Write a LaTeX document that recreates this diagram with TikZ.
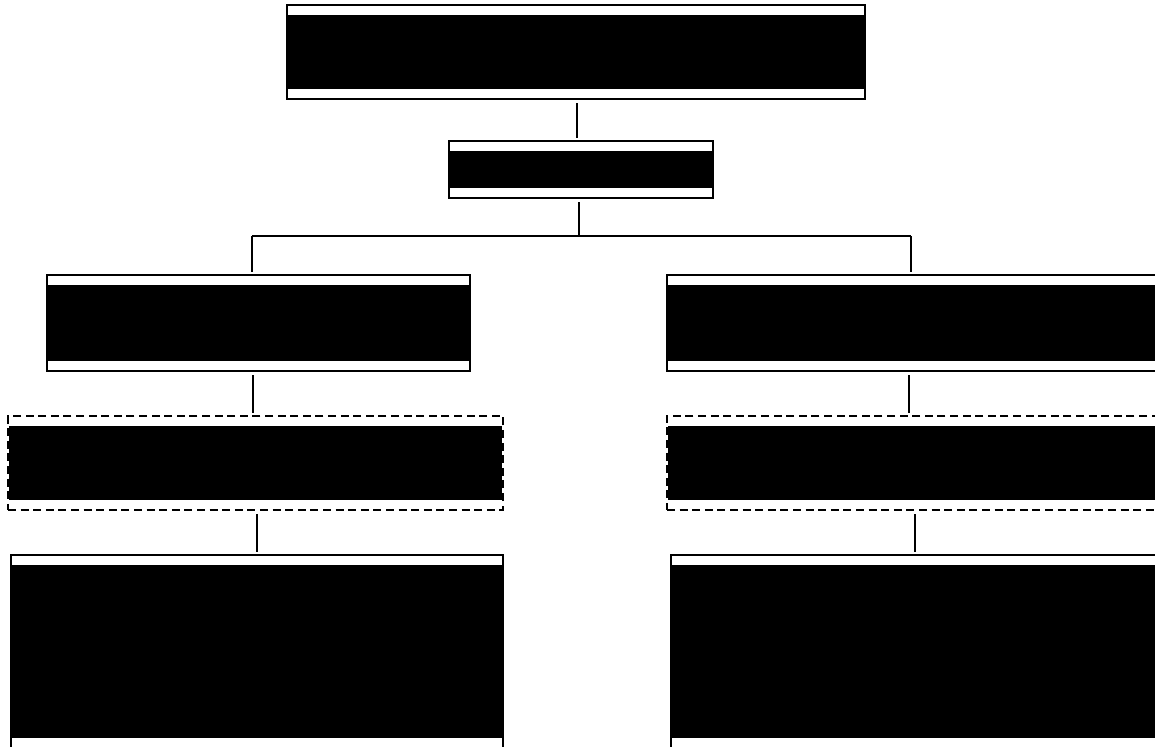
\documentclass[tikz,border=0pt]{standalone}
\usepackage{tikz}

\tikzset{
  blk/.style={draw, line width=1pt, fill=white, inner sep=0pt,
    path picture={\fill[black] ([xshift=0.5pt,yshift=-5pt]path picture bounding box.north west)
      rectangle ([xshift=-0.5pt,yshift=5pt]path picture bounding box.south east);}},
  dblk/.style={blk, dash pattern=on 4pt off 2.3pt},
  link/.style={line width=1pt, shorten <=1.5pt, shorten >=1pt}
}

\begin{document}
\begin{tikzpicture}[x=0.5pt,y=-0.5pt]
\useasboundingbox (0,0) rectangle (1155,746);
% levels of the tree
\node[blk, minimum width=289pt, minimum height=47pt] (top) at (576,52) {};
\node[blk, minimum width=132pt, minimum height=28.5pt] (mid) at (581,169.5) {};
\node[blk, minimum width=211.5pt, minimum height=48pt] (b3l) at (258.5,323) {};
\node[blk, minimum width=254pt, minimum height=48pt] (b3r) at (921,323) {};
\node[dblk, minimum width=247.5pt, minimum height=47pt] (b4l) at (255.5,463) {};
\node[dblk, minimum width=254pt, minimum height=47pt] (b4r) at (921,463) {};
\node[blk, minimum width=246pt, minimum height=96.5pt] (b5l) at (257,651.5) {};
\node[blk, minimum width=244pt, minimum height=96.5pt] (b5r) at (915,651.5) {};
\coordinate (busL) at (252,236);
\coordinate (busR) at (911,236);
% connectors
\draw[link] (top.south -| 577,0) -- (mid.north -| 577,0);
\draw[link, shorten >=0pt] (mid.south -| 579,0) -- (579,236);
\draw[line width=1pt] (busL) -- (busR);
\draw[link, shorten <=0pt] (busL) -- (busL |- b3l.north);
\draw[link, shorten <=0pt] (busR) -- (busR |- b3r.north);
\draw[link] (253,0 |- b3l.south) -- (253,0 |- b4l.north);
\draw[link] (b3r.south -| 909,0) -- (b4r.north -| 909,0);
\draw[link] (b5l.north |- b4l.south) -- (b5l.north);
\draw[link] (b5r.north |- b4r.south) -- (b5r.north);
\end{tikzpicture}
\end{document}
